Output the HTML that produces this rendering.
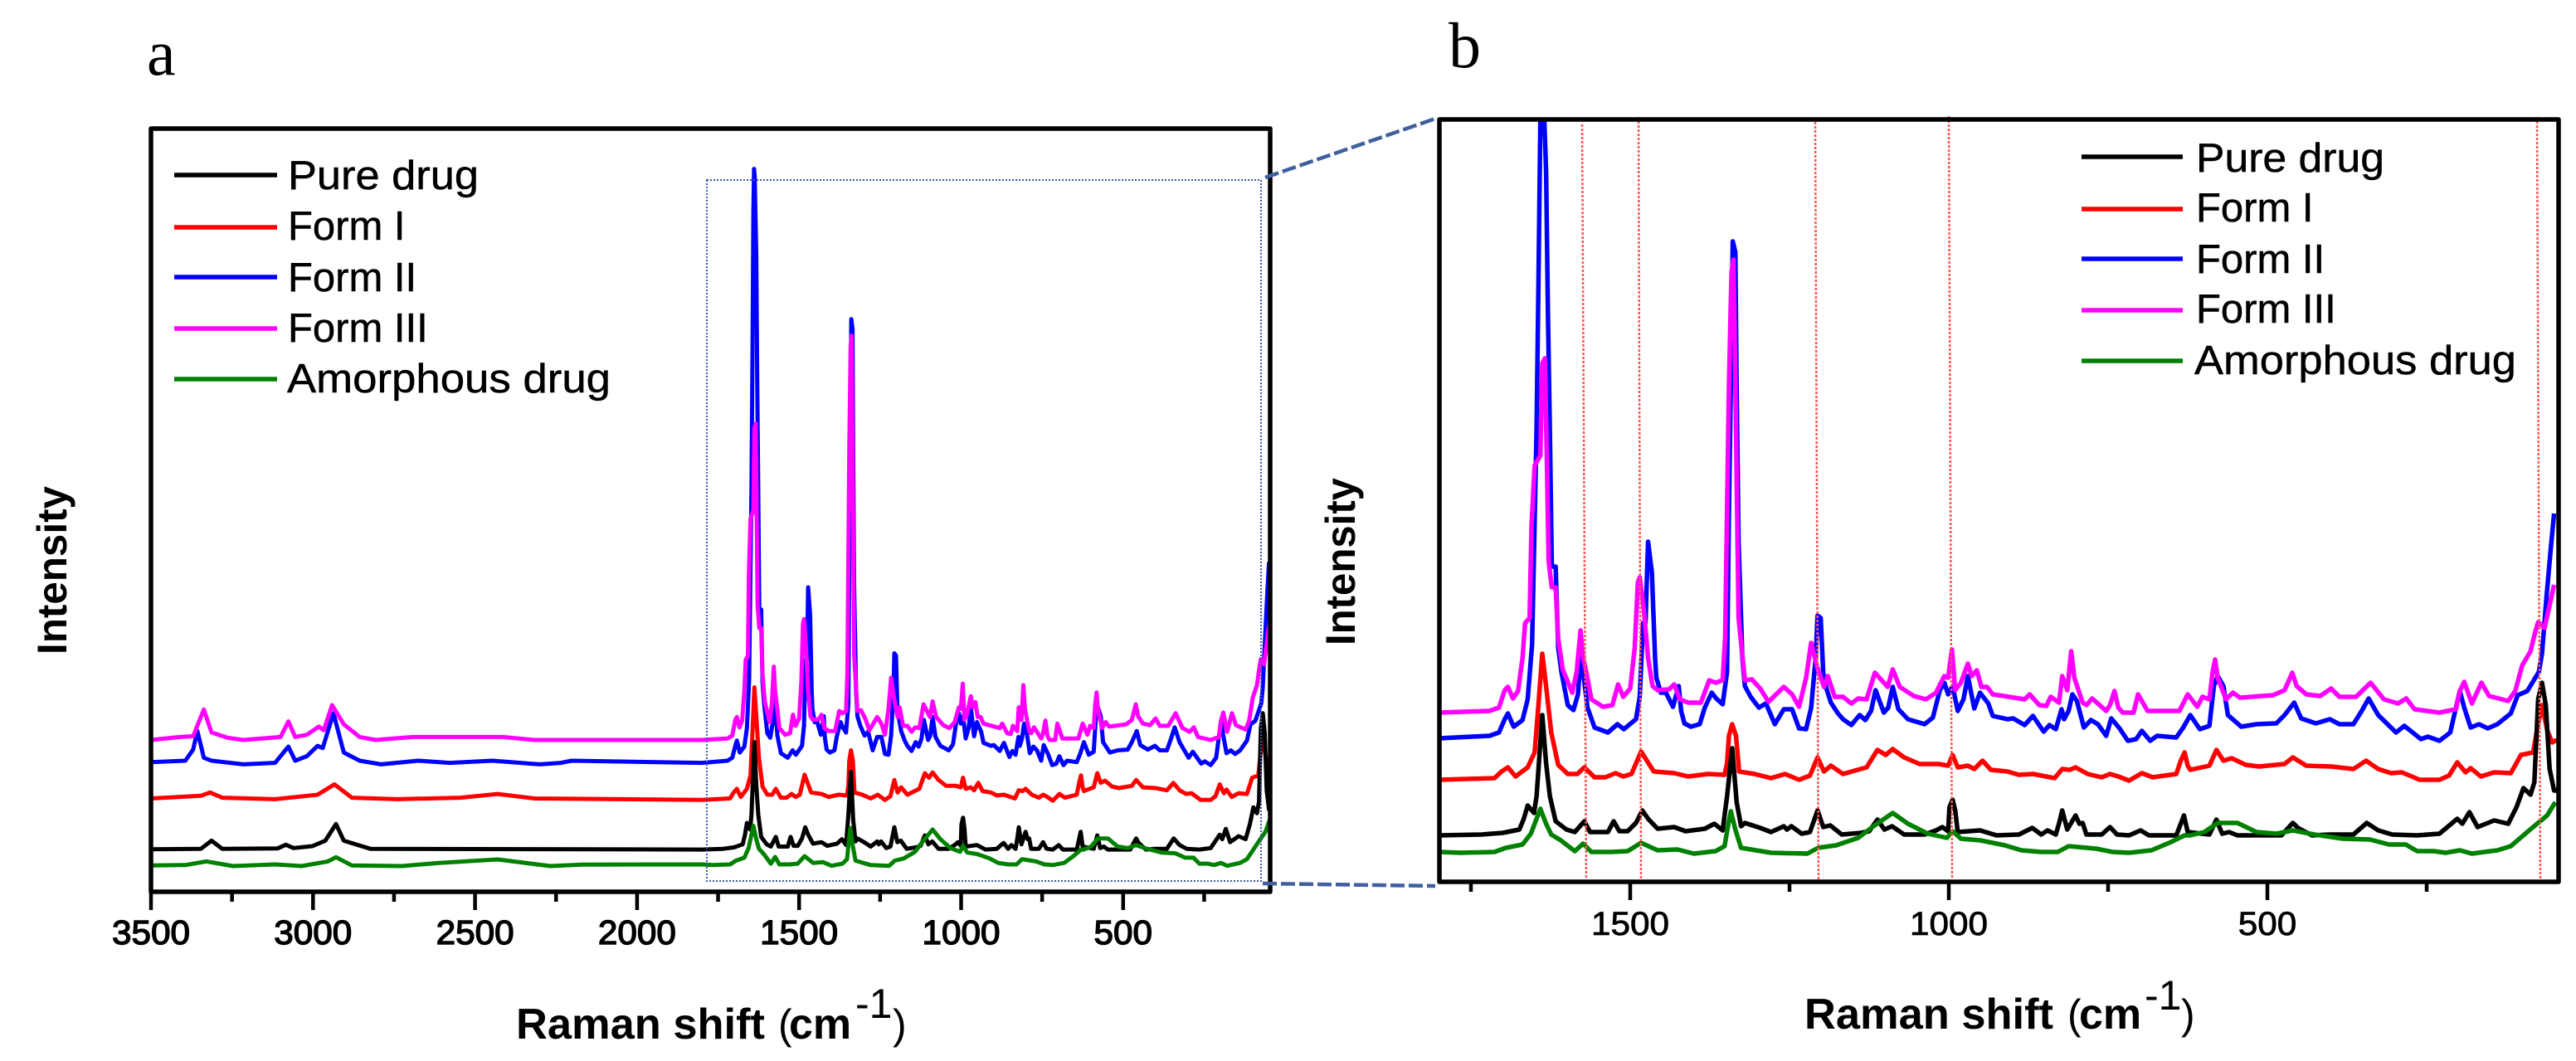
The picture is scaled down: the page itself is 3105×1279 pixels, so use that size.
<!DOCTYPE html>
<html lang="en">
<head>
<meta charset="utf-8">
<title>Raman spectra of drug forms</title>
<style>
html,body{margin:0;padding:0;background:#fff;}
svg{display:block;}
text{font-family:"Liberation Sans",sans-serif;fill:#000;}
.serif{font-family:"Liberation Serif",serif;}
.bold{font-weight:bold;}
.legend text{stroke:#000;stroke-width:0.5;}
</style>
</head>
<body>
<svg id="chart" xmlns="http://www.w3.org/2000/svg" width="3105" height="1279" viewBox="0 0 3105 1279">
  <defs>
    <clipPath id="clip-a"><rect x="182" y="155" width="1349" height="920"/></clipPath>
    <clipPath id="clip-b"><rect x="1735" y="144" width="1349" height="919"/></clipPath>
  </defs>
  <rect x="0" y="0" width="3105" height="1279" fill="#fff"/>

  <text class="serif" x="177" y="90" font-size="78">a</text>
  <text class="serif" x="1746" y="81" font-size="78">b</text>

  <g id="panel-a">
    <g id="series-a" clip-path="url(#clip-a)"></g>
    <rect x="852" y="217" width="668" height="845" fill="none" stroke="#3f5aa6" stroke-width="2" stroke-dasharray="2 2"/>
    <rect x="182" y="155" width="1349" height="920" fill="none" stroke="#000" stroke-width="5.5" stroke-linejoin="round"/>
    <g id="ticks-a"></g>
    <text class="bold" x="622" y="1252" font-size="52" textLength="300" lengthAdjust="spacingAndGlyphs">Raman shift</text>
    <text x="938" y="1252" font-size="50">(</text>
    <text class="bold" x="951" y="1252" font-size="52">cm</text>
    <text x="1031" y="1227" font-size="50">-1</text>
    <text x="1076" y="1252" font-size="50">)</text>
    <text class="bold" font-size="50" textLength="203" lengthAdjust="spacingAndGlyphs" transform="translate(80 789) rotate(-90)">Intensity</text>
    <g class="legend">
      <line x1="210" x2="334" y1="211" y2="211" stroke="#000" stroke-width="5.5"/>
      <text x="347" y="228" font-size="49" textLength="230" lengthAdjust="spacingAndGlyphs">Pure drug</text>
      <line x1="210" x2="334" y1="274" y2="274" stroke="#f00" stroke-width="5.5"/>
      <text x="347" y="289" font-size="49">Form I</text>
      <line x1="210" x2="334" y1="334" y2="334" stroke="#00f" stroke-width="5.5"/>
      <text x="347" y="351" font-size="49">Form II</text>
      <line x1="210" x2="334" y1="396" y2="396" stroke="#f0f" stroke-width="5.5"/>
      <text x="347" y="412" font-size="49">Form III</text>
      <line x1="210" x2="334" y1="457" y2="457" stroke="#008000" stroke-width="5.5"/>
      <text x="346" y="473" font-size="49" textLength="390" lengthAdjust="spacingAndGlyphs">Amorphous drug</text>
    </g>
  </g>

  <line x1="1525" y1="214" x2="1730" y2="143" stroke="#3f5f9f" stroke-width="4.5" stroke-dasharray="17 5"/>
  <line x1="1522" y1="1065" x2="1730" y2="1068" stroke="#3f5f9f" stroke-width="4.5" stroke-dasharray="17 5"/>

  <g id="panel-b">
    <g id="series-b" clip-path="url(#clip-b)"></g>
    <g stroke="#f55" stroke-width="2.5" stroke-dasharray="3 2">
      <line x1="1907" y1="150" x2="1912" y2="1060"/>
      <line x1="1975" y1="141" x2="1978" y2="1060"/>
      <line x1="2188" y1="147" x2="2192" y2="1066"/>
      <line x1="2349" y1="140" x2="2353" y2="1060"/>
      <line x1="3058" y1="141" x2="3062" y2="1060"/>
    </g>
    <rect x="1735" y="144" width="1349" height="919" fill="none" stroke="#000" stroke-width="5.5" stroke-linejoin="round"/>
    <g id="ticks-b"></g>
    <text class="bold" x="2175" y="1240" font-size="52" textLength="300" lengthAdjust="spacingAndGlyphs">Raman shift</text>
    <text x="2492" y="1240" font-size="50">(</text>
    <text class="bold" x="2506" y="1240" font-size="52">cm</text>
    <text x="2585" y="1217" font-size="50">-1</text>
    <text x="2629" y="1240" font-size="50">)</text>
    <text class="bold" font-size="50" textLength="202" lengthAdjust="spacingAndGlyphs" transform="translate(1633 778) rotate(-90)">Intensity</text>
    <g class="legend">
      <line x1="2509" x2="2631" y1="189" y2="189" stroke="#000" stroke-width="5.5"/>
      <text x="2647" y="207" font-size="49" textLength="227" lengthAdjust="spacingAndGlyphs">Pure drug</text>
      <line x1="2509" x2="2631" y1="252" y2="252" stroke="#f00" stroke-width="5.5"/>
      <text x="2647" y="267" font-size="49">Form I</text>
      <line x1="2509" x2="2631" y1="312" y2="312" stroke="#00f" stroke-width="5.5"/>
      <text x="2647" y="329" font-size="49">Form II</text>
      <line x1="2509" x2="2631" y1="374" y2="374" stroke="#f0f" stroke-width="5.5"/>
      <text x="2647" y="389" font-size="49">Form III</text>
      <line x1="2509" x2="2631" y1="435" y2="435" stroke="#008000" stroke-width="5.5"/>
      <text x="2645" y="451" font-size="49" textLength="388" lengthAdjust="spacingAndGlyphs">Amorphous drug</text>
    </g>
  </g>
</svg>

<script>
const panelAMajorTicks = [3500, 3000, 2500, 2000, 1500, 1000, 500];
const panelAMinorTicks = [3250, 2750, 2250, 1750, 1250, 750, 250];
const panelATickLabels = ['3500', '3000', '2500', '2000', '1500', '1000', '500'];
const panelBMajorTicks = [1500, 1000, 500];
const panelBMinorTicks = [1750, 1250, 750, 250];
const panelBTickLabels = ['1500', '1000', '500'];

const pureDrugShift = [3500,3346,3313,3280,3109,3084,3060,3002,2962,2929,2905,2823,1800,1734,1700,1674,1667,1661,1651,1647,1638,1632,1626,1617,1600,1587,1572,1563,1535,1526,1517,1504,1491,1481,1472,1457,1431,1413,1383,1368,1355,1348,1340,1333,1326,1320,1296,1279,1259,1254,1247,1231,1218,1206,1197,1186,1168,1138,1125,1112,1101,1089,1070,1038,1020,1010,1001,999,994,990,986,951,925,890,869,855,845,832,826,822,814,801,795,790,784,760,747,736,717,699,686,643,636,631,625,591,580,571,560,547,478,460,452,430,400,365,344,326,304,265,230,202,194,183,170,144,122,109,98,87,81,75,69,63,57,50,44];
const pureDrugIntensity = [56.5,57,68,57,57.6,62.5,58,60.6,68,90.5,68,57,56,57,59,63,76,92,83,103,201,143,103,73,63,60,73,60,60,73,61,61,71,86,76,64,66,61,64,70,62,103,161,96,67,71,65,60,67,63,67,58,60,86,66,68,57,59,61,75,63,67,57,57,62,66,61,90,99,86,60,62,56,57,65,57,62,57,73,86,63,80,70,71,57,57,66,57,56,62,56,56,70,80,60,57,75,58,60,56,56,71,65,56,57,57,71,62,57,56,58,76,70,84,66,74,70,90,113,105,120,220,240,213,136,110,110];

const formOneShift = [3500,3346,3318,3280,3117,2986,2934,2880,2741,2545,2431,2317,1800,1713,1702,1692,1680,1661,1650,1645,1638,1632,1624,1613,1598,1583,1572,1556,1539,1523,1511,1498,1483,1463,1431,1409,1378,1352,1348,1345,1340,1334,1329,1305,1279,1257,1235,1218,1206,1196,1185,1166,1129,1112,1099,1088,1070,1046,1016,1001,994,986,970,960,947,934,908,890,868,834,822,810,801,782,760,747,734,717,697,680,643,636,630,625,621,591,580,569,556,534,513,473,460,439,400,365,345,326,306,289,261,230,215,202,189,181,165,144,118,102,83,76,69,61,53,46];
const formOneIntensity = [125,128.6,133,126,124,130,144,126,124,126,131,125,123,125,133,138,127,138,156,203,275,236,180,141,130,130,138,126,126,131,127,130,157,133,131,127,130,129,143,176,190,176,133,130,125,130,123,128,150,133,140,130,138,159,153,160,150,142,142,140,153,138,140,136,146,135,133,129,130,125,136,135,138,130,126,130,127,122,131,126,130,146,156,140,135,140,159,146,149,141,139,142,150,140,139,136,146,136,131,132,123,123,128,144,132,137,127,132,131,153,156,186,213,183,168,171];

const formTwoShift = [3500,3394,3370,3357,3337,3313,3215,3117,3076,3055,3019,2986,2970,2937,2905,2856,2790,2676,2578,2447,2300,2235,2202,1800,1721,1706,1697,1692,1683,1669,1661,1654,1647,1644,1641,1639,1637,1632,1629,1626,1623,1617,1613,1608,1598,1589,1582,1577,1574,1567,1556,1535,1520,1510,1491,1485,1480,1476,1472,1466,1461,1459,1452,1444,1433,1424,1420,1415,1405,1391,1383,1372,1365,1355,1348,1345,1342,1339,1335,1333,1330,1324,1320,1311,1298,1287,1273,1259,1246,1235,1224,1216,1209,1206,1201,1197,1192,1185,1174,1166,1153,1140,1131,1122,1115,1102,1095,1088,1079,1064,1038,1025,1014,1007,1001,994,986,977,970,960,951,938,931,908,899,881,868,851,842,832,823,819,812,806,799,788,777,766,753,745,732,719,706,697,684,673,643,632,621,606,591,584,578,569,562,541,517,486,473,458,447,424,402,387,365,352,341,326,298,285,259,248,230,213,204,198,191,181,168,154,139,118,107,92,74,69,62,55,50];
const formTwoIntensity = [174,176,191,216,180,176,171,173,195,176,182,196,193,240,187,176,171,176,173,176,171,173,176,173,176,180,196,203,187,195,220,286,545,723,919,975,965,857,680,539,380,380,282,253,213,207,226,278,253,210,186,180,190,184,196,223,312,312,410,373,269,246,228,228,211,236,206,191,187,190,210,228,221,214,253,447,600,772,759,594,410,269,236,223,210,215,190,208,208,185,184,210,270,321,318,251,233,216,203,196,189,201,195,206,231,204,210,235,208,196,190,198,231,240,226,236,206,220,248,209,228,215,200,196,197,189,200,181,189,184,208,196,206,226,218,186,195,190,176,197,185,170,172,182,170,176,174,186,201,184,188,236,248,236,201,187,190,191,201,216,197,191,196,190,190,206,221,201,180,188,172,175,170,180,210,230,210,186,190,185,190,203,225,230,253,275,343,404,444];

const formThreeShift = [3500,3411,3370,3337,3313,3264,3215,3100,3076,3055,3019,2982,2967,2941,2905,2856,2807,2692,2415,2317,1800,1721,1706,1697,1692,1684,1676,1669,1665,1658,1655,1650,1641,1638,1634,1631,1628,1623,1617,1613,1606,1591,1584,1578,1574,1569,1561,1543,1528,1519,1511,1500,1493,1488,1485,1479,1472,1465,1457,1439,1431,1422,1409,1389,1376,1366,1355,1351,1345,1341,1338,1335,1330,1320,1309,1296,1283,1259,1246,1235,1224,1216,1207,1196,1190,1179,1166,1153,1142,1129,1116,1096,1088,1077,1055,1036,1020,1007,1001,995,990,981,970,964,956,949,940,931,881,873,858,847,840,827,822,814,808,803,790,784,775,753,747,740,734,727,710,703,688,638,625,610,602,591,586,582,578,565,554,543,491,473,461,454,439,417,400,387,361,338,317,295,282,269,230,204,198,191,179,164,152,122,111,100,87,79,75,65,50];
const formThreeIntensity = [204,208,209,245,214,207,204,208,229,208,211,222,217,251,225,208,204,208,208,204,204,206,210,231,235,221,230,270,312,318,429,502,514,625,631,514,386,355,355,293,256,228,253,303,270,253,220,211,213,238,223,233,282,361,367,331,270,236,231,232,238,220,216,216,243,240,243,294,600,735,750,606,318,243,244,233,217,235,226,211,246,288,260,235,248,223,223,215,221,220,252,235,256,235,224,220,228,248,246,280,231,240,263,248,255,235,235,226,220,226,213,212,223,216,248,231,278,246,216,213,221,206,213,230,210,204,204,226,206,206,226,211,223,220,253,268,246,220,228,222,225,231,252,236,226,224,233,223,223,240,220,215,221,208,204,208,230,241,215,240,224,218,230,261,278,303,313,306,358];

const amorphousShift = [3500,3394,3329,3247,3117,3035,2954,2929,2880,2725,2611,2431,2268,2170,1800,1765,1713,1695,1669,1656,1641,1632,1624,1609,1587,1574,1561,1530,1504,1483,1457,1426,1400,1366,1352,1346,1342,1335,1326,1279,1222,1205,1177,1142,1120,1088,1064,1033,1003,994,981,951,912,886,855,829,812,769,743,717,682,651,630,621,599,578,547,517,486,460,426,382,339,309,283,265,239,220,198,179,139,118,83,61,48];
const amorphousIntensity = [34.5,35,40,33.7,36,33.7,40,45.7,34.5,33.7,38,42.7,33.7,35.6,36,35,36,41,45,58,88,70,57,50,37,46,36,36,37,47,38,39,34,37,43,70,85,63,41,35,34,41,44,53,66,83,70,58,53,61,52,50,44,38,36,36,43,40,36,35,38,48,56,56,60,71,71,60,58,62,57,52,51,45,45,37,37,35,38,34,38,43,66,80,96];

const seriesList = [
  { name: 'form-2', color: '#0000ff', shift: formTwoShift, intensity: formTwoIntensity },
  { name: 'form-3', color: '#ff00ff', shift: formThreeShift, intensity: formThreeIntensity },
  { name: 'form-1', color: '#ff0000', shift: formOneShift, intensity: formOneIntensity },
  { name: 'pure-drug', color: '#000000', shift: pureDrugShift, intensity: pureDrugIntensity },
  { name: 'amorphous-drug', color: '#008000', shift: amorphousShift, intensity: amorphousIntensity }
];

const SVG_NS = 'http://www.w3.org/2000/svg';
function xA(v) { return 182 + (3500 - v) * 0.3906; }
function yA(i) { return 1074.1 - i / 1.12; }
function xB(v) { return 1965 + (1500 - v) * 0.768; }
function yB(i) { return 1063 - i; }

function drawSeries(groupId, xFn, yFn, width) {
  const group = document.getElementById(groupId);
  seriesList.forEach(function (s) {
    const points = s.shift.map(function (v, k) {
      return xFn(v).toFixed(1) + ',' + yFn(s.intensity[k]).toFixed(1);
    });
    const el = document.createElementNS(SVG_NS, 'polyline');
    
    
    el.setAttribute('points', points.join(' '));
    el.setAttribute('fill', 'none');
    el.setAttribute('stroke', s.color);
    el.setAttribute('stroke-width', width);
    el.setAttribute('stroke-linejoin', 'round');
    group.appendChild(el);
  });
}

function drawTicks(groupId, xFn, major, minor, labels, axisY, labelY, fontSize, weight) {
  const group = document.getElementById(groupId);
  major.forEach(function (v, k) {
    const tick = document.createElementNS(SVG_NS, 'line');
    
    
    tick.setAttribute('x1', xFn(v));
    tick.setAttribute('x2', xFn(v));
    tick.setAttribute('y1', axisY);
    tick.setAttribute('y2', axisY + 22);
    tick.setAttribute('stroke', '#000');
    tick.setAttribute('stroke-width', 4.5);
    group.appendChild(tick);
    const label = document.createElementNS(SVG_NS, 'text');
    
    
    label.setAttribute('x', xFn(v));
    label.setAttribute('y', labelY);
    label.setAttribute('font-size', fontSize);
    label.setAttribute('text-anchor', 'middle');
    label.setAttribute('stroke', '#000');
    label.setAttribute('stroke-width', weight);
    label.textContent = labels[k];
    label.setAttribute('textLength', labels[k].length * 23.5);
    label.setAttribute('lengthAdjust', 'spacingAndGlyphs');
    group.appendChild(label);
  });
  minor.forEach(function (v) {
    const tick = document.createElementNS(SVG_NS, 'line');
    
    
    tick.setAttribute('x1', xFn(v));
    tick.setAttribute('x2', xFn(v));
    tick.setAttribute('y1', axisY);
    tick.setAttribute('y2', axisY + 12);
    tick.setAttribute('stroke', '#000');
    tick.setAttribute('stroke-width', 4.5);
    group.appendChild(tick);
  });
}

drawSeries('series-a', xA, yA, 5);
drawSeries('series-b', xB, yB, 5.5);
drawTicks('ticks-a', xA, panelAMajorTicks, panelAMinorTicks, panelATickLabels, 1075, 1138, 41, 1.4);
drawTicks('ticks-b', xB, panelBMajorTicks, panelBMinorTicks, panelBTickLabels, 1063, 1127, 40, 0.8);
</script>
</body>
</html>
